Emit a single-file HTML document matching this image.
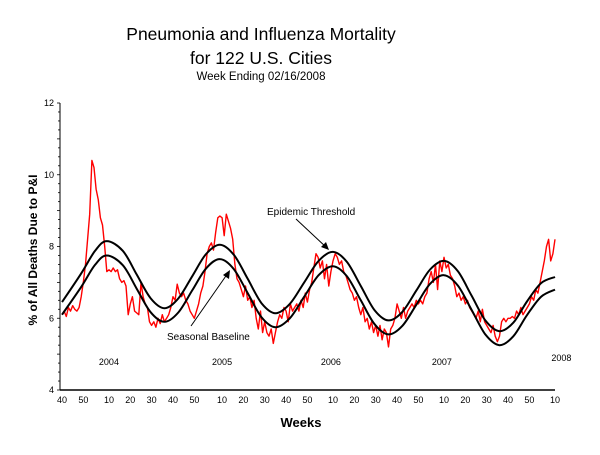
<!DOCTYPE html>
<html><head><meta charset="utf-8"><style>
body{margin:0;background:#fff;}
svg text{font-family:"Liberation Sans",Arial,sans-serif;}
</style></head><body>
<svg id="chart" width="600" height="450" viewBox="0 0 600 450" xmlns="http://www.w3.org/2000/svg">
<rect width="600" height="450" fill="#fff"/>
<text x="261" y="40" font-size="17.5" text-anchor="middle">Pneumonia and Influenza Mortality</text>
<text x="261" y="64" font-size="17.5" text-anchor="middle">for 122 U.S. Cities</text>
<text x="261" y="80" font-size="11.5" text-anchor="middle">Week Ending 02/16/2008</text>
<text transform="translate(37,250) rotate(-90)" font-size="12" font-weight="bold" text-anchor="middle">% of All Deaths Due to P&amp;I</text>
<text x="301" y="427" font-size="13" font-weight="bold" text-anchor="middle">Weeks</text>
<g id="grid"></g>
<g id="marks"></g>
<text x="267" y="215" font-size="10">Epidemic Threshold</text>
<text x="167" y="340" font-size="10">Seasonal Baseline</text>
<line x1="296" y1="219" x2="327" y2="248" stroke="#000" stroke-width="1"/>
<polygon points="329,250 321,247 326,242" fill="#000"/>
<line x1="191" y1="326" x2="228" y2="273" stroke="#000" stroke-width="1"/>
<polygon points="230,270 223,275 229,279" fill="#000"/>
</svg>
<script>
const yTicks=[4,6,8,10,12];
const xTickWeeks=[0,10,22,32,42,52,62,75,85,95,105,115,127,137,147,157,167,179,189,199,209,219,231];
const xTickLabels=["40","50","10","20","30","40","50","10","20","30","40","50","10","20","30","40","50","10","20","30","40","50","10"];
const yearLabels=["2004","2005","2006","2007","2008"];
const yearLabelWeeks=[22,75,126,178,234];
const pi_values=[6.1,6.2,6.05,6.3,6.2,6.35,6.25,6.2,6.3,6.6,
7.0,7.5,8.2,8.9,10.4,10.2,9.6,9.3,8.8,8.6,
8.0,7.3,7.35,7.3,7.4,7.3,7.35,7.1,7.0,7.05,
6.9,6.1,6.4,6.6,6.2,6.15,6.1,7.0,6.6,6.4,
6.3,5.9,5.8,5.9,5.75,6.0,5.85,6.1,5.9,6.0,
6.1,6.3,6.6,6.5,6.95,6.7,6.6,6.7,6.5,6.4,
6.2,6.1,6.0,6.2,6.4,6.7,6.9,7.3,7.8,8.0,
8.1,7.9,8.4,8.8,8.85,8.8,8.3,8.9,8.7,8.5,
8.2,7.5,7.1,7.0,6.8,6.6,6.9,6.5,6.6,6.3,
6.5,6.0,5.7,6.2,5.6,5.9,5.6,5.5,5.7,5.3,
5.6,5.9,6.1,6.0,6.3,6.2,5.9,6.4,6.2,6.3,
6.4,6.2,6.5,6.3,6.7,6.45,6.8,7.0,7.4,7.8,
7.7,7.4,7.6,7.1,7.5,6.9,7.3,7.6,7.8,7.7,
7.5,7.6,7.3,7.2,7.0,6.8,6.7,6.5,6.6,6.3,
6.1,6.3,5.9,6.0,5.7,5.9,5.6,5.8,5.5,5.8,
5.4,5.7,5.6,5.2,5.7,5.8,6.0,6.4,6.2,6.0,
6.3,6.0,6.2,6.3,6.4,6.3,6.5,6.4,6.5,6.4,
6.6,6.7,7.1,7.3,7.0,7.5,6.8,7.6,7.3,7.7,
7.4,7.5,7.2,7.1,6.9,6.6,6.7,6.5,6.6,6.4,
6.5,6.3,6.2,6.1,6.0,6.2,5.9,6.25,5.9,5.8,
5.7,5.6,5.8,5.5,5.35,5.5,5.9,6.0,5.9,6.0,
6.0,6.05,6.0,6.2,6.1,6.3,6.1,6.2,6.3,6.4,
6.6,6.5,6.8,6.7,7.0,7.3,7.6,8.0,8.2,7.6,
7.8,8.2];
const curveWeeks=[0,9,15.5,21,28.5,35,41.5,48,54.5,61,67.5,74,80.5,87,93.5,100,106.75,113.5,120.25,127,133.5,140,146.5,153,159.5,166,172.5,179,185.5,192,198.5,205,211.5,218,224.5,231];
const baselineValues=[6.1,6.875,7.49,7.75,7.48,6.825,6.17,5.9,6.16,6.775,7.39,7.65,7.37,6.7,6.03,5.75,6.0,6.6,7.2,7.45,7.17,6.5,5.83,5.55,5.79,6.375,6.96,7.2,6.91,6.225,5.54,5.25,5.5,6.1,6.6,6.8];
const thresholdValues=[6.45,7.25,7.88,8.15,7.88,7.22,6.56,6.28,6.55,7.17,7.79,8.05,7.77,7.1,6.42,6.14,6.4,7.0,7.6,7.85,7.57,6.9,6.22,5.94,6.18,6.77,7.36,7.6,7.31,6.62,5.93,5.64,5.88,6.48,6.98,7.15];

const X0=60,X1=555,Y0=390,Y1=103,WMAX=231,VMIN=4,VMAX=12;
const xs=w=>X0+2+w*(X1-X0-2)/WMAX;
const ys=v=>Y0-(v-VMIN)*(Y0-Y1)/(VMAX-VMIN);
const NS="http://www.w3.org/2000/svg";
const grid=document.getElementById('grid'),marks=document.getElementById('marks');
function mk(tag,attrs,parent){const e=document.createElementNS(NS,tag);for(const k in attrs)e.setAttribute(k,attrs[k]);parent.appendChild(e);return e;}

const ya=mk('line',{x1:X0,y1:Y1,x2:X0,y2:Y0,stroke:'#000','stroke-width':1},grid);


const xa=mk('line',{x1:X0,y1:Y0,x2:X1,y2:Y0,stroke:'#000','stroke-width':1.5},grid);


for(let v=VMIN;v<=VMAX+0.001;v+=0.25){
  const t=mk('line',{x1:X0-(Math.abs(v-Math.round(v))<0.01?3:2),y1:ys(v),x2:X0,y2:ys(v),stroke:'#000','stroke-width':0.8},grid);
  
  
}
yTicks.forEach(v=>{
  const t=mk('text',{x:X0-6,y:ys(v)+3,'font-size':9,'text-anchor':'end'},grid);t.textContent=v;
  
  
});
xTickWeeks.forEach((w,i)=>{
  const t=mk('text',{x:xs(w),y:403,'font-size':9,'text-anchor':'middle'},grid);t.textContent=xTickLabels[i];
  
  
});
yearLabels.forEach((y,i)=>{
  const t=mk('text',{x:xs(yearLabelWeeks[i]),y:i==4?361:365,'font-size':9,'text-anchor':'middle'},grid);t.textContent=y;
  
  
});
function smooth(wk,vals){
  const p=wk.map((w,i)=>[xs(w),ys(vals[i])]);
  let d='M'+p[0][0].toFixed(1)+','+p[0][1].toFixed(1);
  for(let i=0;i<p.length-1;i++){
    const a=p[Math.max(0,i-1)],b=p[i],c=p[i+1],e=p[Math.min(p.length-1,i+2)];
    const c1=[b[0]+(c[0]-a[0])/6,b[1]+(c[1]-a[1])/6],c2=[c[0]-(e[0]-b[0])/6,c[1]-(e[1]-b[1])/6];
    d+='C'+c1.map(n=>n.toFixed(1))+' '+c2.map(n=>n.toFixed(1))+' '+c[0].toFixed(1)+','+c[1].toFixed(1);
  }
  return d;
}
const red=mk('polyline',{points:pi_values.map((v,i)=>xs(i).toFixed(1)+','+ys(v).toFixed(1)).join(' '),fill:'none',stroke:'#ff0000','stroke-width':1.4,'stroke-linejoin':'round'},marks);


const bl=mk('path',{d:smooth(curveWeeks,baselineValues),fill:'none',stroke:'#000','stroke-width':2},marks);


const th=mk('path',{d:smooth(curveWeeks,thresholdValues),fill:'none',stroke:'#000','stroke-width':2},marks);


</script>
</body></html>
